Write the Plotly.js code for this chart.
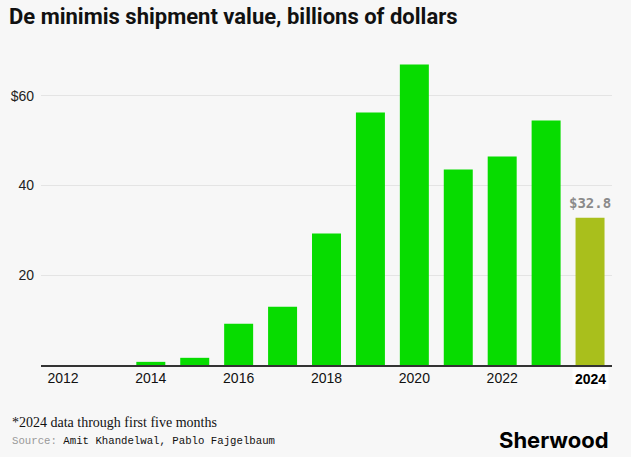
<!DOCTYPE html>
<html>
<head>
<meta charset="utf-8">
<script src="https://cdn.plot.ly/plotly-3.0.1.min.js"></script>
<style>
  html, body { margin: 0; padding: 0; background: #f7f7f7; }
  #chart { width: 631px; height: 457px; }
</style>
</head>
<body>
<div id="chart"></div>
<script>
// Data
const years = [2012, 2013, 2014, 2015, 2016, 2017, 2018, 2019, 2020, 2021, 2022, 2023, 2024];
const values = [0, 0, 0.7, 1.6, 9.2, 13.0, 29.3, 56.3, 67.0, 43.6, 46.5, 54.5, 32.8];
const xTickVals = [2012, 2014, 2016, 2018, 2020, 2022];
const xTickText = ["2012", "2014", "2016", "2018", "2020", "2022"];
const highlightYear = 2024;
const highlightLabel = "2024";
const highlightValueLabel = "$32.8";
const yTickVals = [20, 40, 60];
const yTickText = ["20", "40", "$60"];
const titleText = "De minimis shipment value, billions of dollars";
const footnoteText = "*2024 data through first five months";
const sourceLabel = "Source:";
const sourceText = "Amit Khandelwal, Pablo Fajgelbaum";
const brandText = "Sherwood";

const colors = years.map(y => y === highlightYear ? "#a9bf1c" : "#07dc00");
const hiIndex = years.indexOf(highlightYear);

const trace = {
  type: "bar",
  x: years,
  y: values,
  marker: { color: colors, line: { width: 0 } },
  hoverinfo: "skip"
};

const layout = {
  width: 631,
  height: 457,
  paper_bgcolor: "#f7f7f7",
  plot_bgcolor: "#f7f7f7",
  margin: { l: 41, r: 19, t: 51, b: 92 },
  bargap: 0.34,
  showlegend: false,
  title: {
    text: "<b>" + titleText + "</b>",
    font: { family: "Roboto, 'Liberation Sans', sans-serif", size: 22, color: "#111" },
    x: 9 / 631, xanchor: "left", xref: "container",
    y: 1 - 16 / 457, yanchor: "middle", yref: "container"
  },
  xaxis: {
    type: "linear",
    range: [2011.5, 2024.5],
    tickvals: xTickVals,
    ticktext: xTickText,
    ticks: "",
    showgrid: false,
    zeroline: false,
    showline: true,
    linecolor: "#333",
    linewidth: 1.5,
    tickfont: { family: "'Liberation Sans', Arial, sans-serif", size: 14, color: "#111" },
    fixedrange: true
  },
  yaxis: {
    range: [0, 70],
    tickvals: yTickVals,
    ticktext: yTickText,
    ticks: "",
    showgrid: true,
    gridcolor: "#e4e4e4",
    gridwidth: 1,
    zeroline: false,
    showline: false,
    ticklabelstandoff: 6,
    tickfont: { family: "'Liberation Sans', Arial, sans-serif", size: 14, color: "#222" },
    fixedrange: true
  },
  annotations: [
    {
      x: highlightYear, y: 0, xref: "x", yref: "y",
      yshift: -14,
      text: "<b>" + highlightLabel + "</b>",
      showarrow: false,
      bgcolor: "#ffffff",
      borderpad: 2,
      font: { family: "'Liberation Sans', Arial, sans-serif", size: 14, color: "#000" },
      xanchor: "center", yanchor: "middle"
    },
    {
      x: highlightYear, y: values[hiIndex], xref: "x", yref: "y",
      text: "<b>" + highlightValueLabel + "</b>",
      showarrow: false,
      yshift: 15,
      font: { family: "'DejaVu Sans Mono', 'Liberation Mono', monospace", size: 14, color: "#8a8a8a" },
      xanchor: "center", yanchor: "middle"
    },
    {
      x: 10, y: 457 - 422, xref: "paper", yref: "paper",
      text: footnoteText,
      showarrow: false,
      font: { family: "'Liberation Serif', 'DejaVu Serif', serif", size: 14, color: "#111" },
      xanchor: "left", yanchor: "middle"
    },
    {
      x: 10, y: 457 - 441, xref: "paper", yref: "paper",
      text: "<span style='color:#999'>" + sourceLabel + "</span> " + sourceText,
      showarrow: false,
      font: { family: "'Liberation Mono', 'DejaVu Sans Mono', monospace", size: 10.7, color: "#111" },
      xanchor: "left", yanchor: "middle"
    },
    {
      x: 611, y: 457 - 440, xref: "paper", yref: "paper",
      text: "<b>" + brandText + "</b>",
      showarrow: false,
      font: { family: "Inter, Roboto, sans-serif", size: 22, color: "#000", weight: 900 },
      xanchor: "right", yanchor: "middle"
    }
  ]
};

// convert pixel-positioned footer annotations into paper coordinates
const plotW = 631 - layout.margin.l - layout.margin.r;
const plotH = 457 - layout.margin.t - layout.margin.b;
layout.annotations.forEach(a => {
  if (a.xref === "paper") {
    a.x = (a.x - layout.margin.l) / plotW;
    a.y = (a.y - layout.margin.b) / plotH;
  }
});

Plotly.newPlot("chart", [trace], layout, { displayModeBar: false, staticPlot: true });
</script>
</body>
</html>
